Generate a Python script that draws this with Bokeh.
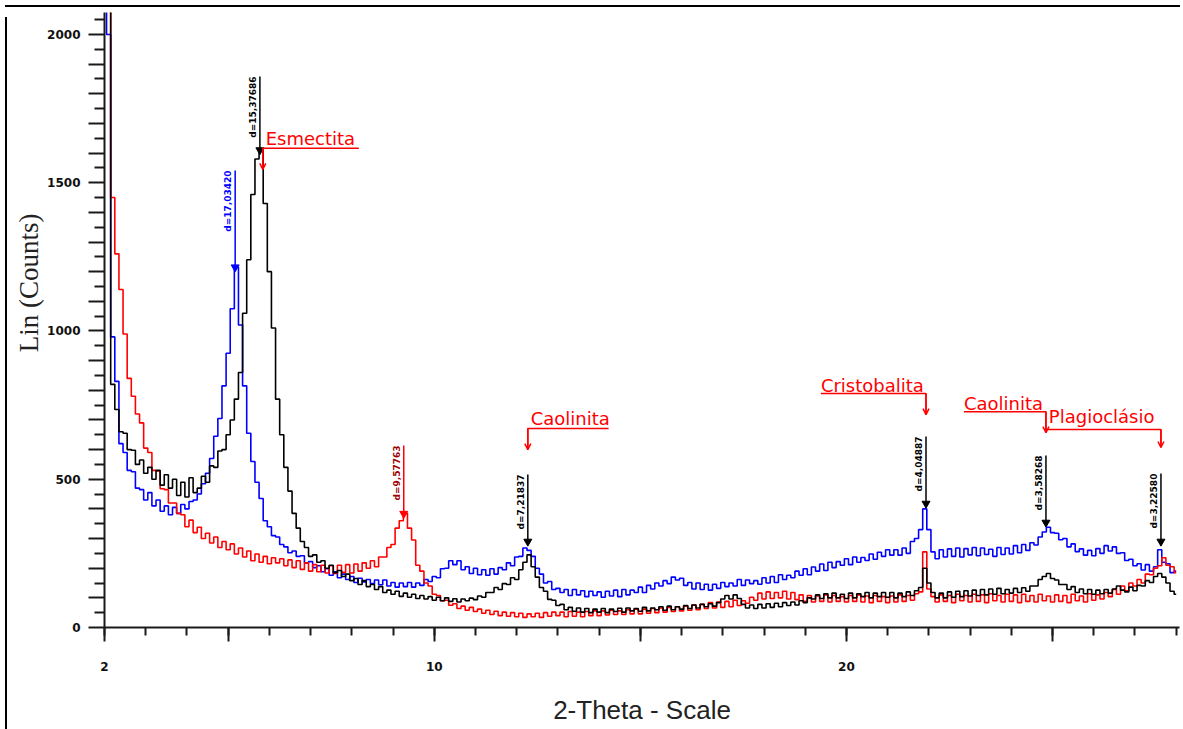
import math
from bokeh.plotting import figure
from bokeh.models import (FixedTicker, Range1d, Title, Arrow, OpenHead,
                          ColumnDataSource, Div)
from bokeh.layouts import column, row
from bokeh.core.properties import value
from bokeh.embed import file_html
from bokeh.resources import INLINE

# ---------------- data (2-Theta grid, step 0.1) ----------------
two_theta = [round(2.0 + 0.1 * i, 1) for i in range(261)]

black_counts = [
    3000, 2300, 820, 735, 660, 655, 600, 598, 550, 565,
    520, 540, 500, 530, 480, 515, 470, 500, 445, 490,
    440, 505, 455, 470, 510, 490, 545, 540, 595, 600,
    650, 700, 770, 860, 1060, 1240, 1460, 1580, 1610, 1430,
    1200, 1010, 770, 650, 540, 460, 385, 335, 290, 270,
    240, 245, 220, 225, 200, 210, 185, 192, 172, 180,
    158, 165, 145, 158, 138, 145, 128, 138, 118, 126,
    112, 122, 105, 116, 102, 112, 98, 108, 96, 104,
    92, 102, 90, 100, 88, 97, 86, 96, 90, 99,
    94, 106, 102, 118, 118, 135, 128, 148, 145, 168,
    162, 195, 220, 245, 205, 170, 135, 122, 95, 92,
    74, 78, 60, 68, 55, 66, 52, 64, 50, 62,
    52, 64, 50, 62, 54, 65, 52, 66, 56, 64,
    55, 68, 56, 66, 60, 70, 58, 72, 60, 70,
    62, 74, 64, 76, 66, 78, 70, 80, 72, 84,
    96, 108, 96, 110, 98, 78, 66, 76, 64, 78,
    66, 80, 68, 82, 70, 84, 74, 86, 76, 90,
    84, 100, 96, 110, 98, 114, 100, 116, 100, 112,
    98, 116, 100, 114, 104, 118, 100, 116, 104, 118,
    102, 118, 100, 116, 104, 120, 108, 124, 135, 200,
    150, 118, 100, 116, 100, 120, 102, 122, 104, 124,
    106, 126, 108, 128, 110, 130, 112, 132, 114, 128,
    116, 132, 118, 134, 122, 140, 140, 162, 172, 182,
    165, 160, 145, 145, 128, 138, 118, 130, 114, 128,
    112, 126, 114, 128, 116, 130, 140, 126, 120, 136,
    124, 142, 140, 158, 152, 172, 182, 170, 150, 122,
    112,
]

blue_counts = [
    3000, 2000, 980, 830, 620, 590, 530, 525, 470, 465,
    430, 455, 410, 430, 392, 410, 380, 405, 385, 415,
    400, 425, 430, 450, 485, 520, 570, 645, 705, 815,
    925, 1075, 1215, 1020, 815, 655, 560, 490, 435, 360,
    340, 310, 305, 280, 272, 252, 258, 240, 242, 218,
    222, 202, 208, 188, 198, 176, 188, 168, 180, 162,
    172, 152, 166, 154, 162, 148, 160, 144, 160, 140,
    152, 136, 150, 138, 152, 136, 150, 142, 162, 155,
    172, 168, 198, 200, 225, 212, 225, 195, 205, 182,
    200, 178, 195, 176, 198, 180, 202, 195, 218, 208,
    238, 240, 268, 260, 240, 200, 180, 150, 155, 128,
    132, 118, 128, 108, 128, 110, 124, 104, 122, 108,
    120, 102, 122, 106, 126, 104, 128, 110, 126, 118,
    136, 118, 142, 130, 150, 140, 158, 148, 170, 160,
    166, 142, 152, 130, 150, 128, 146, 126, 146, 132,
    152, 138, 150, 140, 162, 142, 160, 148, 158, 146,
    168, 150, 172, 152, 178, 162, 176, 168, 190, 176,
    198, 178, 204, 190, 214, 192, 220, 202, 222, 210,
    232, 212, 238, 220, 236, 226, 248, 230, 254, 240,
    262, 244, 262, 244, 268, 250, 290, 300, 330, 400,
    330, 255, 232, 262, 238, 265, 240, 268, 238, 266,
    245, 270, 242, 268, 246, 264, 240, 270, 246, 268,
    248, 276, 252, 280, 260, 286, 278, 305, 322, 338,
    320, 318, 296, 300, 272, 282, 256, 265, 244, 260,
    242, 266, 250, 276, 258, 272, 250, 252, 226, 230,
    208, 215, 194, 212, 190, 205, 262, 220, 215, 185,
    190,
]

red_counts = [
    3000, 2600, 1450, 1260, 1140, 990, 840, 780, 720, 690,
    605, 590, 530, 528, 468, 465, 420, 420, 385, 380,
    340, 362, 320, 338, 300, 318, 285, 305, 270, 290,
    262, 282, 248, 268, 238, 258, 225, 248, 220, 240,
    215, 235, 218, 232, 208, 228, 202, 225, 196, 218,
    190, 212, 188, 210, 184, 208, 182, 210, 186, 212,
    184, 214, 190, 218, 200, 225, 205, 238, 238, 270,
    280, 335, 360, 385, 335, 295, 210, 190, 150, 140,
    112, 108, 90, 92, 75, 80, 64, 72, 58, 68,
    54, 62, 48, 58, 44, 55, 40, 52, 38, 50,
    36, 48, 34, 46, 36, 48, 34, 50, 38, 52,
    40, 52, 36, 54, 38, 52, 36, 54, 40, 56,
    40, 56, 42, 58, 44, 56, 44, 60, 46, 62,
    46, 62, 48, 64, 50, 66, 52, 68, 54, 70,
    56, 72, 58, 76, 60, 78, 64, 84, 66, 86,
    68, 88, 70, 92, 74, 90, 82, 102, 92, 116,
    96, 120, 98, 118, 100, 122, 96, 118, 94, 110,
    88, 108, 86, 106, 88, 110, 86, 108, 88, 104,
    86, 108, 88, 110, 86, 106, 84, 108, 88, 104,
    84, 106, 86, 110, 88, 108, 92, 114, 120, 255,
    130, 104, 86, 110, 88, 108, 84, 112, 90, 108,
    86, 112, 88, 110, 84, 114, 90, 108, 86, 112,
    88, 110, 84, 112, 88, 108, 86, 112, 90, 106,
    86, 110, 88, 108, 84, 112, 90, 106, 86, 114,
    92, 110, 96, 118, 104, 128, 112, 140, 124, 150,
    140, 162, 150, 180, 178, 200, 208, 235, 210, 205,
    185,
]

# ---------------- peak annotations ----------------
peak_x = [5.17, 5.77, 9.26, 12.27, 21.93, 24.84, 27.63]
peak_top = [1541, 1858, 614, 516, 644, 580, 519]
peak_mark = [1215, 1610, 384, 290, 418, 354, 290]
peak_line_color = ["#0000ff", "#000000", "#ff0000", "#000000", "#000000", "#000000", "#000000"]
peak_text_color = ["#0000ff", "#000000", "#a00000", "#000000", "#000000", "#000000", "#000000"]
peak_text = ["d=17,03420", "d=15,37686", "d=9,57763", "d=7,21837",
             "d=4,04887", "d=3,58268", "d=3,22580"]

mineral_text = ["Esmectita", "Caolinita", "Cristobalita", "Caolinita", "Plagioclásio"]
mineral_tx = [5.91, 12.34, 19.38, 22.85, 24.91]
mineral_ty = [1649, 705, 816, 755, 712]
mineral_path_x = [[8.17, 5.84, 5.84], [14.23, 12.27, 12.27], [19.38, 21.93, 21.93],
                  [22.85, 24.84, 24.84], [24.84, 27.63, 27.63]]
mineral_path_y = [[1616, 1616, 1545], [671, 671, 600], [789, 789, 718],
                  [728, 728, 657], [668, 668, 607]]

x_ticks = [2, 5, 10, 15, 20, 25]
x_tick_labels = {2: "2", 5: "", 10: "10", 15: "", 20: "20", 25: ""}
y_ticks = list(range(0, 2100, 100))
y_labeled = [0, 500, 1000, 1500, 2000]

# ---------------- figure ----------------
p = figure(width=1173, height=719, output_backend="svg", toolbar_location=None,
           x_range=Range1d(2, 28.08), y_range=Range1d(0, 2074),
           min_border_left=92, min_border_right=6, min_border_top=0, min_border_bottom=104)
p.outline_line_color = None
p.xgrid.visible = False
p.ygrid.visible = False
p.background_fill_color = "white"
p.border_fill_color = "white"

axis_color = "#1a1a1a"
for ax in (p.xaxis[0], p.yaxis[0]):
    ax.axis_line_color = axis_color
    ax.axis_line_width = 2
    ax.major_tick_line_color = axis_color
    ax.major_tick_line_width = 2
    ax.minor_tick_line_color = axis_color
    ax.minor_tick_line_width = 2
    ax.major_tick_in = 0
    ax.minor_tick_in = 0
    ax.major_label_text_font = "DejaVu Sans"
    ax.major_label_text_font_style = "bold"
    ax.major_label_text_font_size = "12px"
    ax.major_label_text_color = "#111111"

p.xaxis.ticker = FixedTicker(ticks=x_ticks, minor_ticks=list(range(2, 29)))
p.xaxis.major_label_overrides = x_tick_labels
p.xaxis.major_tick_out = 14
p.xaxis.minor_tick_out = 8
p.xaxis.major_label_standoff = 20
p.xaxis.axis_label = "2-Theta - Scale"
p.xaxis.axis_label_text_font = "Liberation Sans"
p.xaxis.axis_label_text_font_style = "normal"
p.xaxis.axis_label_text_font_size = "26px"
p.xaxis.axis_label_text_color = "#222222"
p.xaxis.axis_label_standoff = 21

p.yaxis.ticker = FixedTicker(ticks=y_ticks, minor_ticks=list(range(50, 2100, 100)))
p.yaxis.major_label_overrides = {v: (str(v) if v in y_labeled else "") for v in y_ticks}
p.yaxis.major_tick_out = 16
p.yaxis.minor_tick_out = 10
p.yaxis.major_label_standoff = 8

# y-axis title as a left-side Title, top of text placed ~200px below frame top
p.add_layout(Title(text="Lin (Counts)", align="right", offset=201, standoff=0,
                   text_font="Liberation Serif", text_font_size="27px",
                   text_font_style="normal", text_color="#222222",
                   text_line_height=0.8, vertical_align="middle"), "left")

# ---------------- series ----------------
p.step(two_theta, blue_counts, line_color="#0000ff", line_width=1.6, mode="center")
p.step(two_theta, red_counts, line_color="#ff0000", line_width=1.6, mode="center")
p.step(two_theta, black_counts, line_color="#000000", line_width=1.6, mode="center")

# ---------------- peak markers & d-labels ----------------
p.segment(x0=peak_x, y0=peak_mark, x1=peak_x, y1=peak_top,
          line_color=peak_line_color, line_width=1.5)
p.scatter(x=peak_x, y=peak_mark, marker="inverted_triangle", size=8,
          color=peak_line_color)
p.text(x=peak_x, y=peak_top, text=peak_text, angle=math.pi / 2,
       text_align="right", text_baseline="bottom", x_offset=-2,
       text_color=peak_text_color, text_font=value("DejaVu Sans"),
       text_font_style="bold", text_font_size="9px")

# ---------------- mineral labels ----------------
p.multi_line(xs=mineral_path_x, ys=mineral_path_y, line_color="#ff0000", line_width=1.5)
arrow_src = ColumnDataSource(dict(
    x0=[px[-2] for px in mineral_path_x], y0=[py[-2] for py in mineral_path_y],
    x1=[px[-1] for px in mineral_path_x], y1=[py[-1] for py in mineral_path_y]))
p.add_layout(Arrow(end=OpenHead(size=6, line_color="#ff0000", line_width=1.5),
                   x_start="x0", y_start="y0", x_end="x1", y_end="y1",
                   line_color="#ff0000", line_width=1.5, source=arrow_src))
p.text(x=mineral_tx, y=mineral_ty, text=mineral_text, text_color="#ff0000",
       text_font=value("DejaVu Sans"), text_font_size="18px",
       text_align="left", text_baseline="alphabetic")

top_bar = Div(text="", width=1175, height=2, styles={"background-color": "black"})
left_bar = Div(text="", width=2, height=719, styles={"background-color": "black"})
layout = column(top_bar, row(left_bar, p, spacing=0), spacing=0)

open("out.html", "w").write(file_html(layout, INLINE))
